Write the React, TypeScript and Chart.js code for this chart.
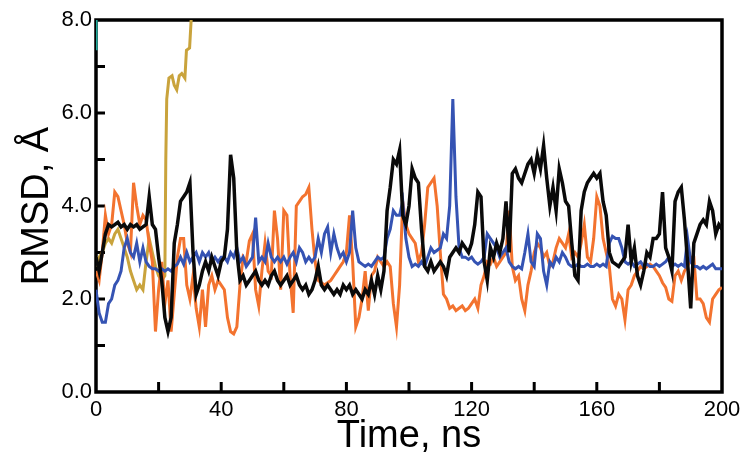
import React, { useEffect, useRef } from 'react';
import { Chart, registerables } from 'chart.js';

Chart.register(...registerables);

// Sampling step of the trajectories (ns)
const TIME_STEP_NS = 1;

// RMSD (Å) sampled every TIME_STEP_NS from 0 to 200 ns
const blackRmsd = [
  2.9, 2.6, 3.0, 3.4, 3.6, 3.55, 3.6, 3.65, 3.55, 3.6,
  3.5, 3.6, 3.55, 3.6, 3.5, 3.55, 3.6, 4.2, 3.6, 3.5,
  2.9, 2.4, 1.6, 1.3, 1.6, 3.2, 3.6, 4.1, 4.2, 4.3,
  4.5, 3.0, 2.1, 2.3, 2.6, 2.8, 2.6, 2.9, 2.7, 2.5,
  2.8, 2.9, 3.5, 5.1, 4.6, 3.0, 2.4, 2.5, 2.3, 2.4,
  2.5, 2.6, 2.4, 2.3, 2.4, 2.3, 2.5, 2.6, 2.4, 2.3,
  2.4, 2.5, 2.3, 2.4, 2.5, 2.3, 2.2, 2.3, 2.1, 2.2,
  2.4, 2.7, 2.3, 2.2, 2.3, 2.2, 2.1, 2.2, 2.1, 2.3,
  2.2, 2.3, 2.1, 2.2, 2.1, 2.0, 2.2, 2.1, 2.4, 2.1,
  2.5, 2.2, 2.6, 3.9, 4.4, 5.0, 4.9, 5.2, 3.8, 3.6,
  4.0, 4.8, 4.6, 4.5, 3.5, 2.7, 2.6, 2.8, 2.6, 2.7,
  2.8, 2.7, 2.5, 2.9, 3.0, 3.1, 3.0, 3.2, 3.1, 3.0,
  3.2, 3.6, 4.3, 4.2, 2.8, 2.4, 3.1, 2.9, 3.2, 3.0,
  3.3, 4.1, 3.0, 4.7, 4.8, 4.6, 4.5, 4.7, 4.9, 5.0,
  4.7, 5.1, 4.8, 5.3, 4.6, 4.0, 4.4, 3.9, 4.8, 4.5,
  4.1, 4.0, 3.2, 2.5, 2.4, 3.9, 4.3, 4.5, 4.6, 4.7,
  4.6, 4.7, 4.1, 3.8, 3.0, 2.8, 2.75, 2.7, 2.8, 2.9,
  3.6, 2.8, 3.1, 2.5, 2.3, 2.6, 3.0, 2.9, 3.3, 3.3,
  3.4, 4.3, 3.1, 2.9, 2.6, 4.1, 4.3, 4.4, 3.7, 2.8,
  1.8, 3.2, 3.4, 3.6, 3.7, 3.6, 4.1, 3.9, 3.4, 3.6,
  3.5,
];

const blueRmsd = [
  2.2, 1.7, 1.5, 1.5, 1.9, 2.0, 2.3, 2.4, 2.6, 3.1,
  3.3, 3.0, 2.9, 3.2, 2.8, 3.1, 2.8, 2.7, 2.65, 2.65,
  2.6, 2.65, 2.6, 2.65, 2.6, 2.7, 2.75, 2.9, 2.75, 3.0,
  2.8, 2.9, 3.0, 2.8, 3.0, 2.9, 3.0, 2.8, 2.9, 2.8,
  2.9, 2.9, 2.8, 3.0, 2.9, 3.1, 2.8, 2.9, 2.7, 2.8,
  2.9, 3.75, 2.8, 2.9, 2.8, 3.2, 2.9, 2.8, 2.9, 2.8,
  2.9, 2.75, 2.9, 3.0, 2.8, 3.1, 3.0, 2.8, 2.9, 2.8,
  2.9, 3.3, 3.0, 3.4, 3.55, 3.0, 3.4, 3.1, 2.9, 3.0,
  2.8, 3.0, 3.9, 3.1, 2.8, 2.75, 2.7, 2.75, 2.7, 2.8,
  2.9, 2.85, 2.9, 3.3, 3.5, 3.9, 3.8, 3.8, 4.1, 3.3,
  2.9, 2.7, 2.75, 2.7, 2.8, 2.7, 2.9, 3.1, 3.0, 3.05,
  3.1, 3.4, 3.3, 4.0, 6.3, 4.2, 3.1, 2.9, 2.9, 2.85,
  2.9, 2.8, 2.75, 2.8, 2.9, 3.4, 3.3, 3.2, 3.1, 2.9,
  3.0, 3.1, 2.8, 2.7, 2.65, 2.7, 2.65, 3.0, 3.4, 2.8,
  2.7, 3.4, 3.3, 2.6, 2.3, 2.8, 2.7, 2.9, 2.8, 3.0,
  2.9, 2.75, 2.7, 2.7, 2.75, 2.7, 2.7, 2.75, 2.7, 2.7,
  2.75, 2.7, 2.75, 2.7, 3.2, 3.35, 3.3, 3.3, 3.1, 2.8,
  2.75, 2.8, 2.7, 2.75, 2.8, 2.7, 2.75, 2.7, 2.7, 2.75,
  2.7, 2.75, 2.8, 2.9, 2.7, 2.75, 2.7, 2.75, 2.7, 3.3,
  2.8, 2.7, 2.7, 2.65, 2.7, 2.65, 2.7, 2.75, 2.65, 2.65,
  2.65,
];

const orangeRmsd = [
  2.6, 2.4, 3.0, 3.8, 3.4, 3.6, 4.3, 4.2, 3.9, 3.6,
  3.2, 3.0, 4.5, 4.0, 3.6, 3.8, 3.7, 3.2, 2.8, 1.3,
  2.2, 2.8, 1.9, 2.4, 1.3, 2.1, 2.9, 3.3, 3.3, 2.3,
  2.0, 2.5, 1.8, 1.4, 2.2, 1.4, 2.3, 2.5, 2.2, 2.4,
  2.3, 2.2, 1.6, 1.3, 1.25, 1.4, 2.3, 2.9, 2.8, 3.25,
  3.4, 2.2, 1.85, 2.6, 3.2, 2.6, 2.5, 3.9, 3.3, 2.2,
  3.9, 3.8, 2.5, 1.7, 4.0, 4.1, 4.2, 4.25, 4.4, 3.5,
  2.8, 2.4, 2.35, 2.3, 2.35, 2.4, 2.5, 2.6, 2.7, 2.8,
  3.0, 3.8, 2.8, 1.4, 1.6, 2.0, 2.6, 1.75, 2.5, 2.6,
  2.9, 2.8, 2.7, 2.8, 2.7, 1.9, 1.4, 2.3, 4.1, 3.6,
  3.4, 3.3, 3.2, 2.8, 3.0, 3.6, 4.4, 4.5, 4.6, 4.0,
  3.0, 2.1, 2.0, 1.8, 1.85, 1.75, 1.8, 1.85, 1.75, 1.8,
  1.9, 2.0, 1.8, 2.3, 2.5, 2.8, 2.75, 2.9, 2.7, 2.8,
  2.9, 3.0, 3.9, 2.7, 2.4, 2.5, 2.0, 1.75, 2.3, 2.6,
  3.0, 3.2, 3.1, 2.9, 3.0, 2.7, 2.8, 3.1, 3.3, 3.2,
  3.1, 3.4, 2.9, 3.0, 2.9, 3.2, 3.6, 2.9, 2.8, 3.3,
  4.2, 4.0, 3.3, 3.0, 2.7, 2.0, 1.85, 2.1, 2.0, 1.55,
  2.2, 2.3, 2.5, 2.6, 2.7, 2.65, 2.7, 2.75, 2.7, 2.6,
  2.5, 2.35, 2.25, 2.0, 1.95, 2.5, 2.6, 2.4, 2.6, 2.7,
  2.9, 2.9, 2.0, 2.0, 1.9, 1.6, 1.5, 2.0, 2.1, 2.2,
  2.25,
];

// Gold trajectory leaves the plotted range after ~30 ns
const goldTime = [
  0, 1, 2, 3, 4, 5, 6, 7, 8, 9, 10, 11, 12, 13, 14, 15, 16, 17, 18, 19, 20, 21, 22,
  22.3, 22.6, 23.3, 24.3, 25, 25.8, 26.6, 27.4, 28.4, 28.9, 29.9, 30.4,
];
const goldRmsd = [
  2.7, 2.9, 3.0, 3.2, 3.3, 3.2, 3.4, 3.5, 3.3, 3.1, 2.9, 2.6, 2.4, 2.2, 2.3, 2.2, 2.8, 3.3, 3.0, 2.7, 2.5, 2.4, 2.5,
  5.0, 6.3, 6.75, 6.8, 6.6, 6.5, 6.8, 6.85, 6.75, 7.35, 7.4, 8.0,
];

// Short teal trace visible along the left axis near the top
const tealTime = [0.2, 0.2];
const tealRmsd = [7.35, 8.0];

// Axis ranges and ticks
const X_MIN = 0;
const X_MAX = 200;
const X_TICK_STEP = 20;
const X_LABEL_STEP = 40;
const Y_MIN = 0;
const Y_MAX = 8;
const Y_TICK_STEP = 1;
const Y_LABEL_STEP = 2;

const FONT = '"Liberation Sans", Arial, Helvetica, sans-serif';

const toPoints = (times: number[], values: number[]) =>
  values.map((v, i) => ({ x: times[i], y: v }));
const uniformPoints = (values: number[]) =>
  values.map((v, i) => ({ x: i * TIME_STEP_NS, y: v }));

const frameAndTicks = {
  id: 'frameAndTicks',
  beforeDatasetsDraw(chart: any) {
    const { ctx, chartArea } = chart;
    const { left, right, top, bottom } = chartArea;
    const xs = chart.scales.x;
    const ys = chart.scales.y;
    ctx.save();
    ctx.strokeStyle = '#000';
    ctx.lineWidth = 3;
    ctx.lineCap = 'butt';
    xs.ticks.forEach((t: any) => {
      if (t.value <= X_MIN || t.value >= X_MAX) return;
      const px = xs.getPixelForValue(t.value);
      ctx.beginPath();
      ctx.moveTo(px, bottom);
      ctx.lineTo(px, bottom - 10);
      ctx.stroke();
    });
    ys.ticks.forEach((t: any) => {
      if (t.value <= Y_MIN || t.value >= Y_MAX) return;
      const py = ys.getPixelForValue(t.value);
      ctx.beginPath();
      ctx.moveTo(left, py);
      ctx.lineTo(left + 9, py);
      ctx.stroke();
    });
    ctx.lineWidth = 3.5;
    ctx.strokeRect(left, top, right - left, bottom - top);
    ctx.restore();
  },
};

export default function App() {
  const canvasRef = useRef<HTMLCanvasElement | null>(null);

  useEffect(() => {
    if (!canvasRef.current) return;
    const chart = new Chart(canvasRef.current, {
      type: 'line',
      data: {
        datasets: [
          {
            label: 'black',
            data: uniformPoints(blackRmsd),
            borderColor: '#0a0a0a',
            borderWidth: 3.5,
          },
          {
            label: 'blue',
            data: uniformPoints(blueRmsd),
            borderColor: '#3553b3',
            borderWidth: 3,
          },
          {
            label: 'orange',
            data: uniformPoints(orangeRmsd),
            borderColor: '#f3732f',
            borderWidth: 3,
          },
          {
            label: 'gold',
            data: toPoints(goldTime, goldRmsd),
            borderColor: '#c9a33c',
            borderWidth: 3,
          },
          {
            label: 'teal',
            data: toPoints(tealTime, tealRmsd),
            borderColor: '#1fa89a',
            borderWidth: 2,
          },
        ].map((d) => ({
          ...d,
          pointRadius: 0,
          tension: 0,
          fill: false,
        })),
      },
      options: {
        animation: false,
        responsive: false,
        maintainAspectRatio: false,
        events: [],
        layout: { padding: { top: 20, right: 28, left: 0, bottom: 0 } },
        plugins: {
          legend: { display: false },
          tooltip: { enabled: false },
        },
        scales: {
          x: {
            type: 'linear',
            min: X_MIN,
            max: X_MAX,
            grid: { display: false, drawTicks: false },
            border: { display: false },
            ticks: {
              stepSize: X_TICK_STEP,
              autoSkip: false,
              maxRotation: 0,
              padding: 5,
              color: '#000',
              font: { family: FONT, size: 22 },
              callback: (v: any) => (Number(v) % X_LABEL_STEP === 0 ? String(v) : ''),
            },
            title: {
              display: true,
              text: 'Time, ns',
              color: '#000',
              font: { family: FONT, size: 38 },
              padding: { top: 0, bottom: 9 },
            },
            afterFit: (scale: any) => {
              scale.height = 76;
            },
          },
          y: {
            type: 'linear',
            min: Y_MIN,
            max: Y_MAX,
            grid: { display: false, drawTicks: false },
            border: { display: false },
            ticks: {
              stepSize: Y_TICK_STEP,
              autoSkip: false,
              padding: 4,
              color: '#000',
              font: { family: FONT, size: 22 },
              callback: (v: any) =>
                Number(v) % Y_LABEL_STEP === 0 ? Number(v).toFixed(1) : '',
            },
            title: {
              display: true,
              text: 'RMSD, Å',
              color: '#000',
              font: { family: FONT, size: 38 },
              padding: { top: 15, bottom: 0 },
            },
            afterFit: (scale: any) => {
              scale.width = 96;
            },
          },
        },
      },
      plugins: [frameAndTicks],
    });
    return () => chart.destroy();
  }, []);

  return (
    <div style={{ position: 'fixed', left: 0, top: 0, width: 750, height: 468, background: '#fff' }}>
      <canvas ref={canvasRef} width={750} height={468} style={{ display: 'block' }} />
    </div>
  );
}
